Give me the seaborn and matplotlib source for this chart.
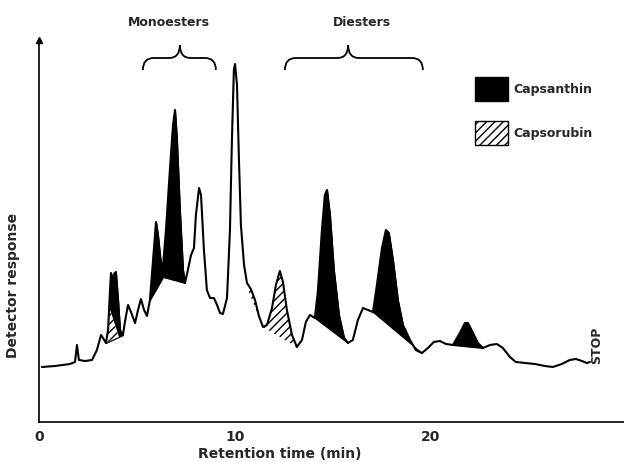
import numpy as np
import matplotlib
matplotlib.use("Agg")
import matplotlib.pyplot as plt
import seaborn as sns
from matplotlib.patches import Patch, PathPatch
from matplotlib.path import Path

sns.set_theme(style="white")
plt.rcParams['font.family'] = ['DejaVu Sans']
plt.rcParams['hatch.linewidth'] = 1.0

# ---- chromatogram trace (time in min, response in arb. units)
time_min = [0.15, 0.82, 1.58, 1.84, 1.94, 2.04, 2.35, 2.71, 2.96, 3.17, 3.27, 3.42, 3.53, 3.63,
            3.68, 3.76, 3.83, 3.93, 4.04, 4.14, 4.29, 4.39, 4.55, 4.70, 4.91, 5.06, 5.21, 5.37,
            5.52, 5.67, 5.83, 5.98, 6.08, 6.23, 6.34, 6.49, 6.69, 6.85, 6.95, 7.05, 7.20, 7.36,
            7.46, 7.61, 7.77, 7.92, 8.02, 8.18, 8.28, 8.43, 8.58, 8.74, 8.94, 9.10, 9.25, 9.40,
            9.61, 9.76, 9.86, 9.96, 10.02, 10.12, 10.22, 10.32, 10.48, 10.63, 10.83, 11.04, 11.24,
            11.45, 11.65, 11.91, 12.11, 12.31, 12.47, 12.67, 12.93, 13.18, 13.44, 13.64, 13.85,
            14.10, 14.26, 14.46, 14.61, 14.72, 14.87, 15.07, 15.33, 15.59, 15.79, 16.04, 16.30,
            16.56, 16.81, 17.07, 17.27, 17.53, 17.73, 17.88, 18.09, 18.34, 18.60, 18.96, 19.26,
            19.57, 19.88, 20.18, 20.49, 20.80, 21.16, 21.51, 21.77, 21.92, 22.18, 22.43, 22.69,
            23.05, 23.40, 23.71, 24.07, 24.37, 24.83, 25.34, 25.86, 26.26, 26.72, 27.13, 27.44,
            27.75, 28.00, 28.16]
response = [55, 56, 58, 60, 77, 62, 61, 62, 72, 87, 84, 79, 92, 132,
            149, 140, 148, 150, 122, 92, 87, 100, 117, 110, 99, 112, 123, 112,
            106, 122, 162, 200, 187, 159, 156, 192, 252, 297, 312, 282, 212, 152,
            139, 152, 167, 174, 207, 234, 227, 172, 132, 124, 124, 117, 109, 108,
            124, 192, 282, 352, 358, 337, 262, 197, 157, 139, 133, 122, 106,
            95, 97, 114, 137, 151, 140, 112, 87, 75, 82, 100, 107,
            104, 132, 192, 227, 232, 207, 152, 107, 84, 79, 82, 102,
            114, 112, 110, 137, 174, 192, 189, 162, 122, 97, 82, 72,
            69, 74, 80, 81, 78, 77, 89, 99, 99, 89, 79, 74,
            77, 78, 74, 65, 60, 59, 58, 56, 55, 58, 62, 63,
            61, 59, 60]

# ---- shaded peak areas: baseline anchors (time, response)
capsanthin_peaks = [
    ([3.42, 4.29], [79, 87]),
    ([5.67, 6.34, 7.46], [122, 145, 139]),
    ([14.10, 15.79], [104, 79]),
    ([17.07, 19.57], [110, 69]),
    ([21.16, 22.69], [77, 74]),
]
capsorubin_peaks = [
    ([10.68, 11.45], [132, 95]),
    ([11.45, 13.18], [95, 75]),
]
# capsorubin part under the first (twin) capsanthin peak: baseline + upper limit line
capsorubin_shoulder_base = ([3.42, 4.29], [79, 87])
capsorubin_shoulder_top = ([3.47, 4.09], [122, 85])

x_ticks = [0, 10, 20]

t = np.array(time_min)
r = np.array(response)

fig = plt.figure(figsize=(6.24, 4.62), dpi=100)
ax = fig.add_axes([39 / 624, 40 / 462, 585 / 624, 382 / 462])

def seg_grid(t0, t1, extra):
    g = np.concatenate([t[(t >= t0) & (t <= t1)], np.array(extra)])
    return np.unique(g)

for bt, br in capsanthin_peaks:
    g = seg_grid(bt[0], bt[-1], bt)
    ax.fill_between(g, np.interp(g, bt, br), np.interp(g, t, r),
                    facecolor="black", edgecolor="black", lw=0.8, zorder=2)

for bt, br in capsorubin_peaks:
    g = seg_grid(bt[0], bt[-1], bt)
    ax.fill_between(g, np.interp(g, bt, br), np.interp(g, t, r),
                    facecolor="white", edgecolor="black", hatch="////", lw=0.0, zorder=2)

bt, br = capsorubin_shoulder_base
tt, tr = capsorubin_shoulder_top
g = seg_grid(tt[0], tt[-1], tt)
low = np.interp(g, bt, br)
up = np.minimum(np.interp(g, t, r), np.interp(g, tt, tr))
ax.fill_between(g, low, np.maximum(low, up),
                facecolor="white", edgecolor="black", hatch="////", lw=0.0, zorder=3)

sns.lineplot(x=t, y=r, ax=ax, color="black", lw=1.5, sort=False, zorder=4)

ax.set_xlim(0, 29.9)
ax.set_ylim(0, 382)
ax.set_xticks(x_ticks)
ax.set_xticklabels([str(v) for v in x_ticks], fontsize=10, fontweight="bold")
ax.set_yticks([187])
ax.set_yticklabels([""])
ax.tick_params(axis="x", direction="in", length=4, width=1, pad=6)
ax.tick_params(axis="y", direction="out", length=3, width=1)
for s in ["top", "right"]:
    ax.spines[s].set_visible(False)
for s in ["left", "bottom"]:
    ax.spines[s].set_color("black")
    ax.spines[s].set_linewidth(1.2)
ax.plot([0], [382], marker="^", color="black", markersize=5, clip_on=False, zorder=5)

ax.set_xlabel("Retention time (min)", fontsize=10, fontweight="bold")
ax.xaxis.set_label_coords((280 - 39) / 585, -0.065)
ax.set_ylabel("Detector response", fontsize=10, fontweight="bold")
ax.yaxis.set_label_coords(-0.033, (422 - 285) / 382)

# braces
def brace(x0, x1, xt, y_end, y_h, y_tip, d=0.55):
    verts = [(x0, y_end), (x0, y_h), (x0 + d, y_h),
             (xt - d, y_h), (xt, y_h), (xt, y_tip),
             (xt, y_h), (xt + d, y_h),
             (x1 - d, y_h), (x1, y_h), (x1, y_end)]
    codes = [Path.MOVETO, Path.CURVE3, Path.CURVE3,
             Path.LINETO, Path.CURVE3, Path.CURVE3,
             Path.CURVE3, Path.CURVE3,
             Path.LINETO, Path.CURVE3, Path.CURVE3]
    ax.add_patch(PathPatch(Path(verts, codes), fill=False, lw=1.3, color="black",
                           clip_on=False, zorder=5))

brace(5.31, 9.04, 7.2, 352, 364, 377)
brace(12.57, 19.62, 15.8, 352, 364, 377)
ax.text(6.65, 400, "Monoesters", ha="center", va="center", fontsize=9, fontweight="bold", clip_on=False)
ax.text(16.5, 400, "Diesters", ha="center", va="center", fontsize=9, fontweight="bold", clip_on=False)
ax.text(28.5, 77, "STOP", rotation=90, ha="center", va="center", fontsize=9, fontweight="bold")

handles = [Patch(facecolor="black", edgecolor="black", label="Capsanthin"),
           Patch(facecolor="white", edgecolor="black", hatch="////", label="Capsorubin")]
fig.legend(handles=handles, loc="upper left", bbox_to_anchor=(475 / 624, 1 - 77 / 462),
           frameon=False, prop={"weight": "bold", "size": 9},
           handlelength=2.6, handleheight=2.6, handletextpad=0.5, labelspacing=1.6,
           borderpad=0, borderaxespad=0)

fig.savefig("out.png", dpi=100)
